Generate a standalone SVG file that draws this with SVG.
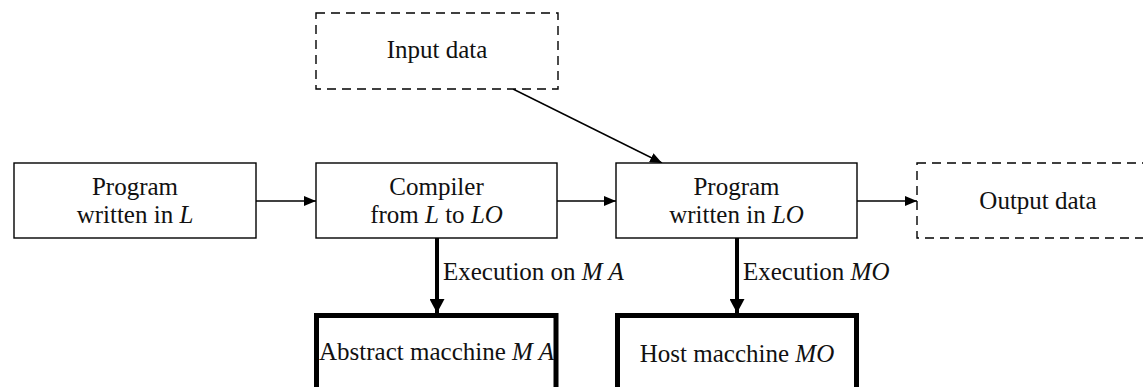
<svg xmlns="http://www.w3.org/2000/svg" width="1143" height="387" viewBox="0 0 1143 387">
  <defs>
    <style>
      .box { fill: #fff; stroke: #000; stroke-width: 1.4; }
      .dashed { fill: #fff; stroke: #000; stroke-width: 1.4; stroke-dasharray: 9 6; }
      .heavy { fill: #fff; stroke: #000; stroke-width: 5; }
      .lbl { font-family: "Liberation Serif", "Times New Roman", serif; font-size: 25px; fill: #111; text-anchor: middle; }
      .side { font-family: "Liberation Serif", "Times New Roman", serif; font-size: 25px; fill: #111; }
      .thin { stroke: #000; stroke-width: 1.4; fill: none; }
      .thick { stroke: #000; stroke-width: 4; fill: none; }
      .m { font-style: italic; }
    </style>
    <marker id="arr" viewBox="0 0 12 10" refX="12" refY="5" markerWidth="12" markerHeight="10" markerUnits="userSpaceOnUse" orient="auto">
      <path d="M0,0 L12,5 L0,10 Z" fill="#000"/>
    </marker>
    <marker id="arrBig" viewBox="0 0 14 15" refX="14" refY="7.5" markerWidth="14" markerHeight="15" markerUnits="userSpaceOnUse" orient="auto">
      <path d="M0,0 L14,7.5 L0,15 Z" fill="#000"/>
    </marker>
  </defs>

  <rect width="1143" height="387" fill="#fff"/>

  <g id="connectors">
    <line class="thin" x1="256" y1="201" x2="316" y2="201" marker-end="url(#arr)"/>
    <line class="thin" x1="557" y1="201" x2="616" y2="201" marker-end="url(#arr)"/>
    <line class="thin" x1="857" y1="201" x2="917" y2="201" marker-end="url(#arr)"/>
    <line class="thin" x1="513" y1="89" x2="662" y2="163" marker-end="url(#arr)"/>
    <line class="thick" x1="437" y1="238" x2="437" y2="313" marker-end="url(#arrBig)"/>
    <line class="thick" x1="737" y1="238" x2="737" y2="313" marker-end="url(#arrBig)"/>
    <text class="side" x="443" y="280">Execution on <tspan class="m">M A</tspan></text>
    <text class="side" x="743" y="280">Execution <tspan class="m">MO</tspan></text>
  </g>

  <g id="input-data">
    <rect class="dashed" x="316" y="13" width="242" height="76"/>
    <text class="lbl" x="437" y="58">Input data</text>
  </g>

  <g id="source-program">
    <rect class="box" x="14" y="163" width="242" height="75"/>
    <text class="lbl" x="135" y="195">Program</text>
    <text class="lbl" x="135" y="223">written in <tspan class="m">L</tspan></text>
  </g>

  <g id="compiler">
    <rect class="box" x="316" y="163" width="241" height="75"/>
    <text class="lbl" x="436.5" y="195">Compiler</text>
    <text class="lbl" x="436.5" y="223">from <tspan class="m">L</tspan> to <tspan class="m">LO</tspan></text>
  </g>

  <g id="target-program">
    <rect class="box" x="616" y="163" width="241" height="75"/>
    <text class="lbl" x="736.5" y="195">Program</text>
    <text class="lbl" x="736.5" y="223">written in <tspan class="m">LO</tspan></text>
  </g>

  <g id="output-data">
    <rect class="dashed" x="917" y="163" width="241" height="75"/>
    <text class="lbl" x="1038" y="209">Output data</text>
  </g>

  <g id="abstract-machine">
    <rect class="heavy" x="316.5" y="315.5" width="239.5" height="100"/>
    <text class="lbl" x="436.5" y="360">Abstract macchine <tspan class="m">M A</tspan></text>
  </g>

  <g id="host-machine">
    <rect class="heavy" x="617.5" y="315.5" width="239" height="100"/>
    <text class="lbl" x="737" y="362">Host macchine <tspan class="m">MO</tspan></text>
  </g>
</svg>
